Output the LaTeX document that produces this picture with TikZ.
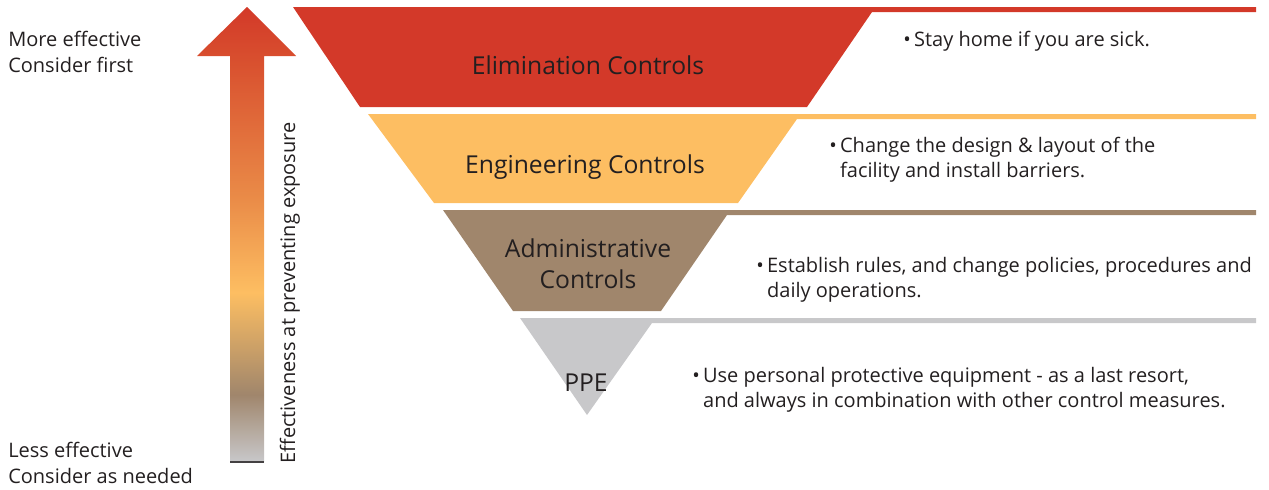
\documentclass[tikz,border=0pt]{standalone}
\usepackage{fontspec}
\setmainfont{Open Sans}
\usepackage{tikz}
\usepackage{xcolor}

\definecolor{rot}{RGB}{211,57,41}
\definecolor{rotb}{RGB}{216,78,46}
\definecolor{orangeb}{RGB}{234,140,72}
\definecolor{gelb}{RGB}{253,190,98}
\definecolor{braun}{RGB}{160,134,108}
\definecolor{grau}{RGB}{200,200,202}
\definecolor{schrift}{RGB}{35,31,32}

\pgfdeclareverticalshading{wirkung}{100bp}{color(0bp)=(grau); color(25bp)=(grau); color(32.4bp)=(braun); color(43.6bp)=(gelb); color(53.8bp)=(orangeb); color(69.5bp)=(rotb); color(75bp)=(rot); color(100bp)=(rot)}

\begin{document}
\begin{tikzpicture}[x=0.75pt, y=-0.75pt, text=schrift,
    seite/.style={anchor=base west, align=left, inner sep=0pt, font=\fontsize{15}{19.5}\selectfont},
    titel/.style={anchor=base, align=center, inner sep=0pt, font=\fontsize{18.5}{23.25}\selectfont},
    info/.style={anchor=base west, align=left, inner sep=0pt, font=\fontsize{15}{18.75}\selectfont}]
  \useasboundingbox (0,0) rectangle (1269,489);
  % Pfeil
  \shade[shading=wirkung] (230,462) -- (230,56) -- (197,56) -- (247,7) -- (296,56) -- (264,56) -- (264,462) -- cycle;
  \draw[line width=1.2pt, schrift!85] (230,462) -- (264,462);  %Fuss
  \node[seite, anchor=base, rotate=90] (achse) at (295,293) {Effectiveness at preventing exposure};
  \node[seite] (oben) at (8,72) {More effective\\Consider first};
  \node[seite] (unten) at (8,483) {Less effective\\Consider as needed};
  % Stufen
  \fill[rot] (293,7) -- (1256,7) -- (1256,12) -- (872,12) -- (807,107) -- (360,107) -- cycle;
  \fill[gelb] (368,114) -- (1256,114) -- (1256,119) -- (797,119) -- (738,203) -- (434,203) -- cycle;
  \fill[braun] (443,210) -- (1256,210) -- (1256,215) -- (727,215) -- (661,311) -- (513,311) -- cycle;
  \fill[grau] (520,318) -- (1256,318) -- (1256,323) -- (652,323) -- (587,415) -- cycle;
  \node[titel] (elim) at (588,74) {Elimination Controls};
  \node[titel] (eng) at (585,173) {Engineering Controls};
  \node[titel] (admin) at (588,288) {Administrative\\Controls};
  \node[titel] (ppe) at (586,391) {PPE};
  % Texte
  \node[info] (t1) at (903,46) {•\,Stay home if you are sick.};
  \node[info] (t2) at (829,177) {•\,Change the design \& layout of the\\\phantom{•\,}facility and install barriers.};
  \node[info] (t3) at (756,297) {•\,Establish rules, and change policies, procedures and\\\phantom{•\,}daily operations.};
  \node[info] (t4) at (692,407) {•\,Use personal protective equipment - as a last resort,\\\phantom{•\,}and always in combination with other control measures.};
\end{tikzpicture}
\end{document}
